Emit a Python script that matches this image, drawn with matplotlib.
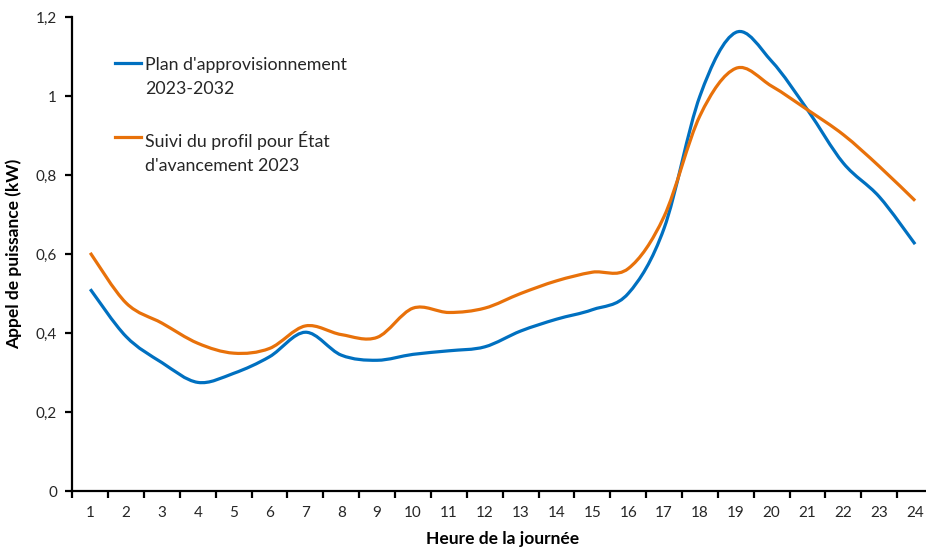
"""
Profil horaire de l'appel de puissance : plan d'approvisionnement vs suivi 2023.
"""

import matplotlib.pyplot as plt
import numpy as np
from matplotlib.lines import Line2D
from matplotlib.patches import PathPatch
from matplotlib.path import Path

hours = list(range(1, 25))

plan_2023_2032 = [0.511, 0.391, 0.325, 0.275, 0.298, 0.340, 0.402, 0.344,
                  0.331, 0.346, 0.355, 0.365, 0.405, 0.435, 0.459, 0.500,
                  0.665, 1.000, 1.161, 1.088, 0.965, 0.830, 0.745, 0.625]
suivi_2023 = [0.603, 0.476, 0.425, 0.374, 0.349, 0.361, 0.418, 0.396,
              0.389, 0.463, 0.452, 0.463, 0.500, 0.532, 0.554, 0.563,
              0.695, 0.950, 1.070, 1.025, 0.965, 0.902, 0.822, 0.735]

labels = ["Plan d'approvisionnement\n2023-2032",
          "Suivi du profil pour État\nd'avancement 2023"]
colors = ["#0070C0", "#E8710A"]

plt.rcParams["font.family"] = ["Lato", "DejaVu Sans"]


def smooth_path(x, y):
    """Excel-like smoothed line: Catmull-Rom segments as cubic Bezier curves."""
    x = np.asarray(x, dtype=float)
    y = np.asarray(y, dtype=float)
    pts = np.column_stack([x, y])
    verts = [pts[0]]
    codes = [Path.MOVETO]
    n = len(pts)
    for i in range(n - 1):
        p0 = pts[i - 1] if i > 0 else pts[i]
        p1 = pts[i]
        p2 = pts[i + 1]
        p3 = pts[i + 2] if i + 2 < n else pts[i + 1]
        c1 = p1 + (p2 - p0) / 6.0
        c2 = p2 - (p3 - p1) / 6.0
        verts += [c1, c2, p2]
        codes += [Path.CURVE4] * 3
    return Path(verts, codes)


fig = plt.figure(figsize=(9.26, 5.49), dpi=100)
ax = fig.add_axes([0.0781, 0.1056, 0.9295, 0.8634])

for series, color in zip([plan_2023_2032, suivi_2023], colors):
    ax.add_patch(PathPatch(smooth_path(hours, series), facecolor="none",
                           edgecolor=color, linewidth=2.3, capstyle="butt"))

ax.set_xlim(0.5, 24.5)
ax.set_ylim(0, 1.2)

# x: ticks between categories, labels centred on them
ax.set_xticks(np.arange(0.5, 24.6, 1.0))
ax.set_xticklabels([])
ax.set_xticks(hours, minor=True)
ax.set_xticklabels([str(h) for h in hours], minor=True)
ax.tick_params(axis="x", which="major", direction="out", length=5, width=1.6,
               color="black")
ax.tick_params(axis="x", which="minor", length=0, pad=11, labelsize=11,
               labelcolor="#262626")

yticks = [0, 0.2, 0.4, 0.6, 0.8, 1.0, 1.2]
ax.set_yticks(yticks)
ax.set_yticklabels(["0", "0,2", "0,4", "0,6", "0,8", "1", "1,2"])
ax.tick_params(axis="y", direction="out", length=5, width=1.6, color="black",
               labelsize=11, labelcolor="#262626", pad=6)

for side in ["top", "right"]:
    ax.spines[side].set_visible(False)
for side in ["left", "bottom"]:
    ax.spines[side].set_linewidth(1.6)
    ax.spines[side].set_color("black")

ax.set_xlabel("Heure de la journée", fontsize=12.5, fontweight="bold",
              labelpad=8)
ax.set_ylabel("Appel de puissance (kW)", fontsize=12.5, fontweight="bold",
              labelpad=10)

# legend drawn by hand so each handle sits on the first line of its label
for (label, color, y_top) in zip(labels, colors, [0.903, 0.747]):
    ax.add_line(Line2D([0.050, 0.080], [y_top, y_top], transform=ax.transAxes,
                       color=color, linewidth=2.3))
    ax.text(0.084, y_top + 0.013, label, transform=ax.transAxes, fontsize=12.8,
            va="top", ha="left", color="#262626", linespacing=1.6)

fig.savefig("out.png", dpi=100)
